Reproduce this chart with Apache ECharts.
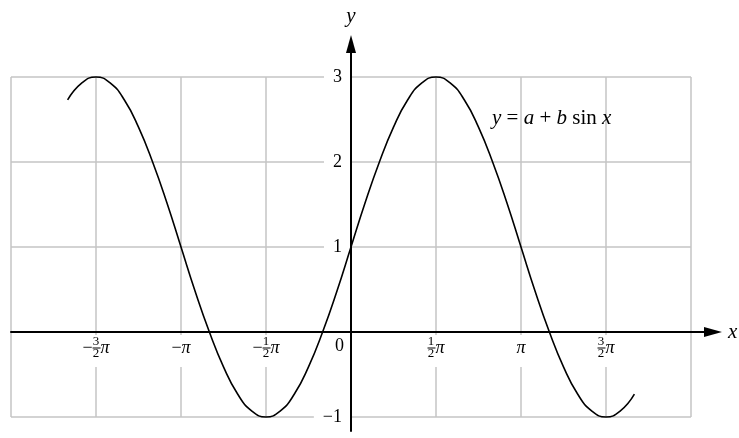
<!DOCTYPE html>
<html>
<head>
<meta charset="utf-8">
<script src="https://cdn.jsdelivr.net/npm/echarts@6/dist/echarts.min.js"></script>
<style>
html, body { margin: 0; padding: 0; background: #fff; }
#container { width: 739px; height: 438px; }
</style>
</head>
<body>
<div id="container"></div>
<script>
// x is given in units of pi, one point every pi/12
var xValues = [-1.667, -1.583, -1.5, -1.417, -1.333, -1.25, -1.167, -1.083, -1, -0.917,
    -0.833, -0.75, -0.667, -0.583, -0.5, -0.417, -0.333, -0.25, -0.167, -0.083,
    0, 0.083, 0.167, 0.25, 0.333, 0.417, 0.5, 0.583, 0.667, 0.75,
    0.833, 0.917, 1, 1.083, 1.167, 1.25, 1.333, 1.417, 1.5, 1.583, 1.667];
var yValues = [2.73, 2.93, 3, 2.93, 2.73, 2.41, 2, 1.52, 1, 0.48,
    0, -0.41, -0.73, -0.93, -1, -0.93, -0.73, -0.41, 0, 0.48,
    1, 1.52, 2, 2.41, 2.73, 2.93, 3, 2.93, 2.73, 2.41,
    2, 1.52, 1, 0.48, 0, -0.41, -0.73, -0.93, -1, -0.93, -0.73];

var xTicks = [-1.5, -1, -0.5, 0.5, 1, 1.5];
var xTickLabels = ['−3/2π', '−π', '−1/2π', '1/2π', 'π', '3/2π'];
var yTicks = [-1, 0, 1, 2, 3];
var yTickLabels = ['−1', '0', '1', '2', '3'];
var equation = '{i|y} = {i|a} + {i|b} sin {i|x}';

var serif = 'Liberation Serif';
var pxPerPi = 170, pxPerUnit = 85;

var dom = document.getElementById("container");
var myChart = echarts.init(dom);

var data = xValues.map(function (x, i) { return [x, yValues[i]]; });

function fmtX(v) {
    var i = xTicks.indexOf(v);
    if (i < 0) return '';
    var s = xTickLabels[i];
    var neg = s.charAt(0) === '−';
    if (neg) s = s.slice(1);
    var sign = neg ? '{m|−}' : '';
    var m = s.match(/^(\d)\/(\d)π$/);
    var n = neg ? 'n' : 'np';
    if (m) {
        return '{' + n + '|' + m[1] + '}\n' + sign + '{b| }{p|π}\n{' + n + '|' + m[2] + '}';
    }
    return '{e| }\n' + sign + '{p|π}\n{e| }';
}

function fmtY(v) {
    var i = yTicks.indexOf(v);
    if (i < 0) return '';
    return v === 0 ? '{z|0}' : '{y|' + yTickLabels[i] + '}';
}

option = {
    backgroundColor: '#fff',
    animation: false,
    grid: [
        { left: 11, right: 48, top: 77, bottom: 21, containLabel: false, outerBoundsMode: 'none' },
        { left: 11, right: 26, top: 44, bottom: 7, containLabel: false, outerBoundsMode: 'none' }
    ],
    xAxis: [
        {
            type: 'value', gridIndex: 0, min: -2, max: 2, interval: 0.5,
            axisLine: { show: false }, axisTick: { show: false }, axisLabel: { show: false },
            splitLine: { show: true, lineStyle: { color: '#c4c4c4', width: 1.5 } }
        },
        {
            type: 'value', gridIndex: 1, min: -2, max: -2 + (739 - 26 - 11) / pxPerPi,
            position: 'bottom', offset: -(14 + pxPerUnit),
            name: 'x', nameLocation: 'end', nameGap: 15,
            nameTextStyle: { fontFamily: serif, fontStyle: 'italic', fontSize: 21, color: '#000' },
            axisLine: {
                onZero: false, symbol: ['none', 'triangle'], symbolSize: [10, 18],
                lineStyle: { color: '#000', width: 2 }
            },
            axisTick: { show: false },
            splitLine: { show: false },
            axisLabel: {
                customValues: xTicks, formatter: fmtX, margin: 3,
                backgroundColor: '#fff', padding: [2, 3, 8, 3],
                rich: {
                    n: { fontFamily: serif, fontSize: 13, lineHeight: 10, color: '#000' },
                    np: { fontFamily: serif, fontSize: 13, lineHeight: 10, color: '#000', padding: [0, 10, 0, 0] },
                    e: { fontFamily: serif, fontSize: 13, lineHeight: 10 },
                    m: { fontFamily: serif, fontSize: 18, lineHeight: 2, color: '#000' },
                    p: { fontFamily: serif, fontSize: 18, fontStyle: 'italic', lineHeight: 2, color: '#000' },
                    b: { width: 8, height: 1, lineHeight: 2, backgroundColor: '#000', fontSize: 2 }
                }
            }
        }
    ],
    yAxis: [
        {
            type: 'value', gridIndex: 0, min: -1, max: 3, interval: 1,
            axisLine: { show: false }, axisTick: { show: false }, axisLabel: { show: false },
            splitLine: { show: true, lineStyle: { color: '#c4c4c4', width: 1.5 } }
        },
        {
            type: 'value', gridIndex: 1,
            min: -1 - 14 / pxPerUnit, max: 3 + 33 / pxPerUnit,
            position: 'left', offset: -2 * pxPerPi,
            name: 'y', nameLocation: 'end', nameGap: 17,
            nameTextStyle: { fontFamily: serif, fontStyle: 'italic', fontSize: 21, color: '#000' },
            axisLine: {
                onZero: false, symbol: ['none', 'triangle'], symbolSize: [10, 18],
                lineStyle: { color: '#000', width: 2 }
            },
            axisTick: { show: false },
            splitLine: { show: false },
            axisLabel: {
                customValues: yTicks, formatter: fmtY, margin: 1,
                rich: {
                    y: { fontFamily: serif, fontSize: 18, color: '#000', backgroundColor: '#fff', padding: [3, 8, 3, 9] },
                    z: { fontFamily: serif, fontSize: 18, color: '#000', padding: [28, 6, 0, 0] }
                }
            }
        }
    ],
    graphic: [
        {
            type: 'text', left: 492, top: 108, z: 10,
            style: {
                text: equation, fontFamily: serif, fontSize: 21, fill: '#000',
                rich: { i: { fontFamily: serif, fontSize: 21, fontStyle: 'italic', fill: '#000' } }
            }
        }
    ],
    series: [
        {
            name: 'y = a + b sin x',
            type: 'line',
            xAxisIndex: 1,
            yAxisIndex: 1,
            smooth: true,
            showSymbol: false,
            lineStyle: { color: '#000', width: 1.6 },
            data: data
        }
    ]
};

if (option && typeof option === "object") {
    myChart.setOption(option, true);
}
</script>
</body>
</html>
